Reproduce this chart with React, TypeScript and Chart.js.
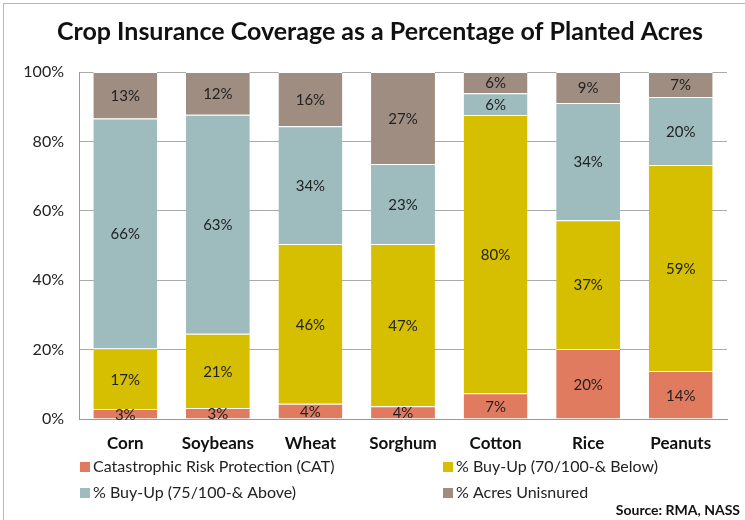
import React, { useEffect, useRef } from "react";
import { Chart, registerables } from "chart.js";

Chart.register(...registerables);

const TITLE = "Crop Insurance Coverage as a Percentage of Planted Acres";
const SOURCE = "Source: RMA, NASS";
const categories = ["Corn", "Soybeans", "Wheat", "Sorghum", "Cotton", "Rice", "Peanuts"];
const catValues = [2.9, 3.2, 4.4, 3.7, 7.4, 20.2, 13.8];
const buyUpBelowValues = [17.4, 21.4, 46.0, 46.7, 80.2, 37.1, 59.4];
const buyUpAboveValues = [66.3, 63.1, 34.0, 23.1, 6.3, 33.8, 19.6];
const uninsuredValues = [13.4, 12.3, 15.6, 26.5, 6.1, 8.9, 7.2];
const seriesNames = [
  "Catastrophic Risk Protection (CAT)",
  "% Buy-Up (70/100-& Below)",
  "% Buy-Up (75/100-& Above)",
  "% Acres Unisnured",
];
const seriesColors = ["#E07B5F", "#D6BF00", "#9EBBBE", "#A08D82"];
const yTicks = [0, 20, 40, 60, 80, 100];

const FONT = "Lato, 'Open Sans', sans-serif";

const overlayPlugin = {
  id: "overlay",
  afterDatasetsDraw(chart: any) {
    const ctx = chart.ctx;
    ctx.save();
    ctx.font = `15px ${FONT}`;
    ctx.fillStyle = "#222";
    ctx.textAlign = "center";
    ctx.textBaseline = "middle";
    chart.data.datasets.forEach((ds: any, di: number) => {
      const meta = chart.getDatasetMeta(di);
      meta.data.forEach((el: any, i: number) => {
        const v = ds.data[i];
        const yMid = (el.y + el.base) / 2;
        ctx.fillText(`${Math.round(v)}%`, el.x, yMid + 1);
      });
    });
    ctx.restore();
  },
  afterDraw(chart: any) {
    const ctx = chart.ctx;
    ctx.save();
    ctx.font = `bold 25px ${FONT}`;
    ctx.fillStyle = "#111";
    ctx.textAlign = "center";
    ctx.textBaseline = "middle";
    ctx.fillText(TITLE, 380, 32);
    const pos = [
      [80, 467],
      [443, 467],
      [80, 493],
      [443, 493],
    ];
    ctx.font = `16px ${FONT}`;
    ctx.textAlign = "left";
    seriesNames.forEach((name, i) => {
      const [x, y] = pos[i];
      ctx.fillStyle = seriesColors[i];
      ctx.fillRect(x, y - 5, 10, 10);
      ctx.fillStyle = "#222";
      ctx.fillText(name, x + 13, y);
    });
    ctx.font = `bold 14px ${FONT}`;
    ctx.textAlign = "right";
    ctx.fillStyle = "#111";
    ctx.fillText(SOURCE, 740, 510);
    ctx.restore();
  },
};

export default function App() {
  const ref = useRef<HTMLCanvasElement>(null);
  useEffect(() => {
    document.body.style.margin = "0";
    const chart = new Chart(ref.current!, {
      type: "bar",
      data: {
        labels: categories,
        datasets: [catValues, buyUpBelowValues, buyUpAboveValues, uninsuredValues].map((d, i) => ({
          label: seriesNames[i],
          data: d,
          backgroundColor: seriesColors[i],
          borderColor: "#ffffff",
          borderWidth: { top: 1, bottom: 0, left: 0, right: 0 },
          borderSkipped: false,
          categoryPercentage: 1,
          barPercentage: 0.69,
        })),
      },
      options: {
        animation: false,
        responsive: false,
        devicePixelRatio: 1,
        layout: { padding: { top: 72, right: 18, bottom: 56, left: 0 } },
        plugins: {
          legend: { display: false },
          tooltip: { enabled: false },
          title: { display: false },
        },
        scales: {
          x: {
            stacked: true,
            grid: { display: false },
            border: { display: true, color: "#999" },
            ticks: {
              font: { family: FONT, size: 17, weight: "bold" },
              color: "#111",
              padding: 6,
            },
            afterFit: (s: any) => {
              s.height = 45;
            },
          },
          y: {
            stacked: true,
            min: 0,
            max: 100,
            afterBuildTicks: (s: any) => {
              s.ticks = yTicks.map((v) => ({ value: v }));
            },
            grid: { color: "#aaa", drawTicks: false },
            border: { display: true, color: "#999" },
            ticks: {
              font: { family: FONT, size: 16 },
              color: "#222",
              padding: 15,
              callback: (v: any) => `${v}%`,
            },
            afterFit: (s: any) => {
              s.width = 79;
            },
          },
        },
      },
      plugins: [overlayPlugin],
    });
    return () => chart.destroy();
  }, []);
  return (
    <div style={{ position: "relative", width: 745, height: 520, overflow: "hidden" }}>
      <div
        style={{
          position: "absolute",
          left: 3,
          top: 3,
          width: 800,
          height: 600,
          borderLeft: "1.5px solid #b8b8b8",
          borderTop: "1.5px solid #b8b8b8",
        }}
      />
      <canvas ref={ref} width={745} height={520} style={{ position: "absolute", left: 0, top: 0 }} />
    </div>
  );
}
